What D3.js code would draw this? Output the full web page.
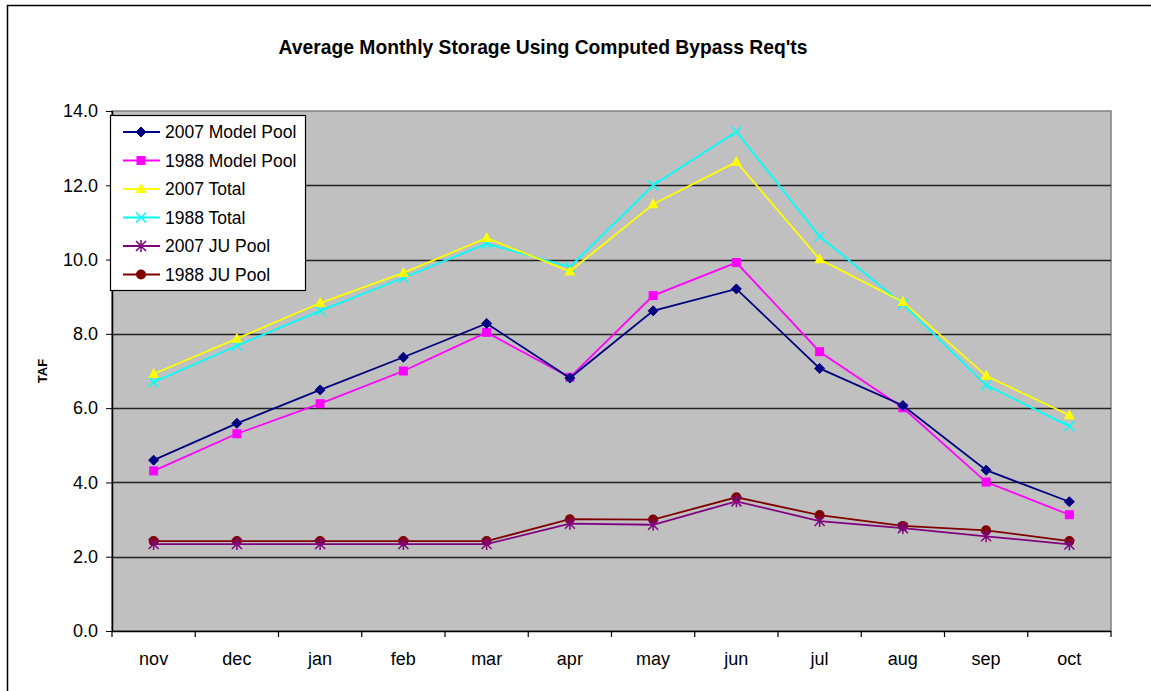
<!DOCTYPE html>
<html>
<head>
<meta charset="utf-8">
<script src="https://cdn.jsdelivr.net/npm/d3@7"></script>
<style>
  body { margin: 0; background: #fff; }
  svg { display: block; font-family: Arial, "Liberation Sans", sans-serif; }
</style>
</head>
<body>
<svg id="chart" width="1151" height="691"></svg>
<script>
// months along the x axis
const months = ['nov', 'dec', 'jan', 'feb', 'mar', 'apr', 'may', 'jun', 'jul', 'aug', 'sep', 'oct'];
const yTicks = [0, 2, 4, 6, 8, 10, 12, 14];

// series values (TAF)
const model2007 = [4.60, 5.59, 6.49, 7.37, 8.28, 6.81, 8.62, 9.21, 7.07, 6.07, 4.33, 3.48];
const model1988 = [4.31, 5.31, 6.12, 7.00, 8.04, 6.83, 9.03, 9.92, 7.52, 6.01, 4.01, 3.13];
const total2007 = [6.92, 7.87, 8.83, 9.64, 10.58, 9.68, 11.49, 12.63, 10.01, 8.86, 6.87, 5.81];
const total1988 = [6.70, 7.68, 8.62, 9.51, 10.43, 9.80, 12.00, 13.44, 10.62, 8.80, 6.62, 5.51];
const ju2007 = [2.34, 2.34, 2.34, 2.34, 2.34, 2.89, 2.86, 3.49, 2.96, 2.77, 2.55, 2.33];
const ju1988 = [2.42, 2.42, 2.42, 2.42, 2.42, 3.01, 3.00, 3.60, 3.12, 2.83, 2.71, 2.42];

const seriesNames = ['2007 Model Pool', '1988 Model Pool', '2007 Total', '1988 Total', '2007 JU Pool', '1988 JU Pool'];
const seriesColors = ['#000080', '#ff00ff', '#ffff00', '#00ffff', '#800080', '#800000'];
const seriesMarkers = ['diamond', 'square', 'triangle', 'x', 'star', 'circle'];
const seriesValues = [model2007, model1988, total2007, total1988, ju2007, ju1988];

const series = seriesNames.map((name, i) => ({
    name: name,
    color: seriesColors[i],
    marker: seriesMarkers[i],
    values: seriesValues[i]
}));

const svg = d3.select('#chart');
const margin = { top: 111, right: 40, bottom: 60, left: 112 };
const width = 1111 - margin.left;
const height = 631 - margin.top;

// outer chart frame (runs off the page on the right and bottom)
svg.append('rect')
    .attr('x', 7.5).attr('y', 5.5)
    .attr('width', 1200).attr('height', 800)
    .attr('fill', 'none')
    .attr('stroke', '#000')
    .attr('stroke-width', 1.5);

svg.append('text')
    .attr('x', 543)
    .attr('y', 54)
    .attr('text-anchor', 'middle')
    .attr('font-weight', 'bold')
    .attr('font-size', 19.3)
    .text("Average Monthly Storage Using Computed Bypass Req'ts");

const x = d3.scaleBand()
    .domain(months)
    .range([0, width]);

const y = d3.scaleLinear()
    .domain([0, 14])
    .range([height, 0]);

const chart = svg.append('g')
    .attr('transform', `translate(${margin.left},${margin.top})`);

chart.append('rect')
    .attr('width', width)
    .attr('height', height)
    .attr('fill', '#c0c0c0')
    .attr('stroke', '#808080')
    .attr('stroke-width', 1.5);

// horizontal gridlines
chart.selectAll('.grid')
    .data(yTicks.filter(d => d > 0 && d < 14))
    .enter().append('line')
    .attr('class', 'grid')
    .attr('x1', 0).attr('x2', width)
    .attr('y1', d => Math.round(y(d)) + 0.5)
    .attr('y2', d => Math.round(y(d)) + 0.5)
    .attr('stroke', '#222')
    .attr('stroke-width', 1.5);

const yAxis = d3.axisLeft(y)
    .tickValues(yTicks)
    .tickFormat(d3.format('.1f'))
    .tickSize(6)
    .tickPadding(8);

const yg = chart.append('g').call(yAxis);
yg.select('.domain').attr('stroke', '#000').attr('stroke-width', 1.5).attr('d', `M0.5,${height}V0`);
yg.selectAll('text').attr('font-size', 18).attr('fill', '#000')
    .attr('font-family', 'Arial, "Liberation Sans", sans-serif');

// x axis: ticks sit between the months, labels in the middle of each band
const xg = chart.append('g').attr('transform', `translate(0,${height})`);
xg.append('line')
    .attr('x1', 0).attr('x2', width)
    .attr('y1', 0.5).attr('y2', 0.5)
    .attr('stroke', '#000').attr('stroke-width', 1.5);
xg.selectAll('.xtick')
    .data(months.concat(['end']))
    .enter().append('line')
    .attr('class', 'xtick')
    .attr('x1', (d, i) => i < months.length ? x(d) : width)
    .attr('x2', (d, i) => i < months.length ? x(d) : width)
    .attr('y1', 0).attr('y2', 6)
    .attr('stroke', '#000').attr('stroke-width', 1.2);
xg.selectAll('.xlabel')
    .data(months)
    .enter().append('text')
    .attr('class', 'xlabel')
    .attr('x', d => x(d) + x.bandwidth() / 2)
    .attr('y', 34)
    .attr('text-anchor', 'middle')
    .attr('font-size', 18)
    .text(d => d);

svg.append('text')
    .attr('transform', `translate(47,${margin.top + height / 2}) rotate(-90)`)
    .attr('text-anchor', 'middle')
    .attr('font-weight', 'bold')
    .attr('font-size', 13)
    .text('TAF');

// markers
function drawMarker(g, type, color) {
    if (type === 'diamond') {
        g.append('path').attr('d', 'M0,-5L5,0L0,5L-5,0Z').attr('fill', color).attr('stroke', color);
    } else if (type === 'square') {
        g.append('rect').attr('x', -4.5).attr('y', -4.5).attr('width', 9).attr('height', 9).attr('fill', color);
    } else if (type === 'triangle') {
        g.append('path').attr('d', 'M0,-6L5.5,4L-5.5,4Z').attr('fill', color);
    } else if (type === 'x') {
        g.append('path').attr('d', 'M-5,-5L5,5M5,-5L-5,5').attr('stroke', color).attr('stroke-width', 1.5);
    } else if (type === 'star') {
        g.append('path').attr('d', 'M-5,-5L5,5M5,-5L-5,5M0,-6V6').attr('stroke', color).attr('stroke-width', 1.5);
    } else if (type === 'circle') {
        g.append('circle').attr('r', 5).attr('fill', color);
    }
}

const line = d3.line()
    .x((d, i) => x(months[i]) + x.bandwidth() / 2)
    .y(d => y(d));

// draw in reverse so the first series ends on top
series.slice().reverse().forEach(s => {
    chart.append('path')
        .datum(s.values)
        .attr('fill', 'none')
        .attr('stroke', s.color)
        .attr('stroke-width', 1.8)
        .attr('d', line);
    s.values.forEach((v, i) => {
        const g = chart.append('g')
            .attr('transform', `translate(${x(months[i]) + x.bandwidth() / 2},${y(v)})`);
        drawMarker(g, s.marker, s.color);
    });
});

// legend
const legend = svg.append('g').attr('transform', 'translate(110,115)');
legend.append('rect')
    .attr('x', 0.5).attr('y', 0.5)
    .attr('width', 195).attr('height', 175)
    .attr('fill', '#fff')
    .attr('stroke', '#000')
    .attr('stroke-width', 1.2);

series.forEach((s, i) => {
    const row = legend.append('g').attr('transform', `translate(0,${17 + i * 28.5})`);
    row.append('line')
        .attr('x1', 13).attr('x2', 50)
        .attr('stroke', s.color).attr('stroke-width', 1.8);
    const m = row.append('g').attr('transform', 'translate(31,0)');
    drawMarker(m, s.marker, s.color);
    row.append('text')
        .attr('x', 55)
        .attr('y', 6)
        .attr('font-size', 17.5)
        .text(s.name);
});
</script>
</body>
</html>
